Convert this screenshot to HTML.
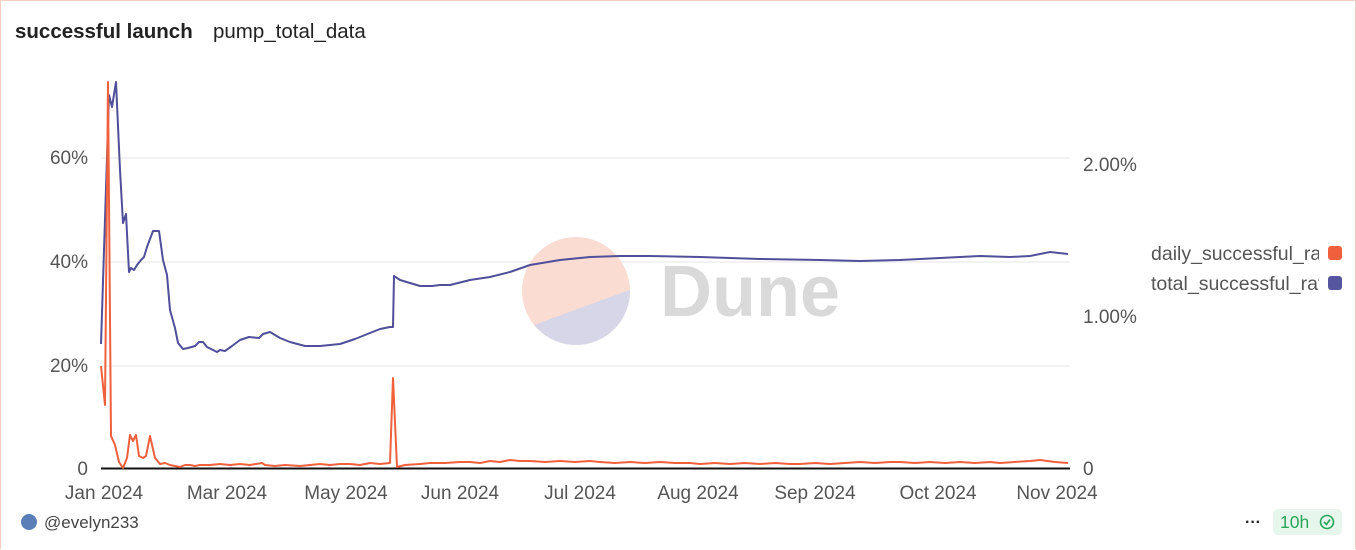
<!DOCTYPE html>
<html><head><meta charset="utf-8"><style>
html,body{margin:0;padding:0;background:#fff;}
body{width:1356px;height:550px;overflow:hidden;position:relative;font-family:"Liberation Sans",sans-serif;}
.frame{position:absolute;left:0;top:0;width:1354px;height:548px;border:1px solid #f3cfc2;border-bottom:none;}
</style></head><body>
<div class="frame"></div>
<svg width="1356" height="550" style="position:absolute;left:0;top:0" font-family="Liberation Sans, sans-serif">
<text x="15" y="38" font-size="20.5" font-weight="bold" fill="#222">successful launch</text>
<text x="213" y="38" font-size="20.5" fill="#222">pump_total_data</text>
<g stroke="#e6e6e6" stroke-width="1">
<line x1="101" x2="1070" y1="158" y2="158"/>
<line x1="101" x2="1070" y1="262" y2="262"/>
<line x1="101" x2="1070" y1="366" y2="366"/>
</g>
<line x1="101" x2="1070" y1="468.5" y2="468.5" stroke="#111" stroke-width="2"/>
<g font-size="19" fill="#555">
<text x="88" y="164" text-anchor="end">60%</text>
<text x="88" y="268" text-anchor="end">40%</text>
<text x="88" y="372" text-anchor="end">20%</text>
<text x="88" y="475" text-anchor="end">0</text>
<text x="1083" y="171">2.00%</text>
<text x="1083" y="323">1.00%</text>
<text x="1083" y="475">0</text>
<g text-anchor="middle">
<text x="104" y="499">Jan 2024</text>
<text x="227" y="499">Mar 2024</text>
<text x="346" y="499">May 2024</text>
<text x="460" y="499">Jun 2024</text>
<text x="580" y="499">Jul 2024</text>
<text x="698" y="499">Aug 2024</text>
<text x="815" y="499">Sep 2024</text>
<text x="938" y="499">Oct 2024</text>
<text x="1057" y="499">Nov 2024</text>
</g>
</g>
<svg x="1151" y="236" width="168" height="70">
<g font-size="19.5" fill="#555" font-family="Liberation Sans, sans-serif">
<text x="0" y="24">daily_successful_rate</text>
<text x="0" y="54">total_successful_rate</text>
</g>
</svg>
<rect x="1328" y="246" width="14" height="14" rx="3" fill="#f0603c"/>
<rect x="1328" y="276" width="14" height="14" rx="3" fill="#5555a0"/>
<defs><clipPath id="c"><circle cx="576" cy="291" r="54"/></clipPath></defs>
<g clip-path="url(#c)">
<rect x="520" y="235" width="115" height="115" fill="#fbdcd3"/>
<polygon points="520,330 635,288 635,350 520,350" fill="#d6d6e8"/>
</g>
<text x="660" y="316" font-size="72" font-weight="bold" fill="#d9d9d9">Dune</text>
<polyline fill="none" stroke="#4f4f9a" stroke-width="2" stroke-linejoin="round" points="101,344 109,95 112,107 116,82 120,170 123,223 126,214 129,272 131,268 134,270 137,265 141,260 144,257 147,247 153,231 159,231 163,260 167,275 170,310 175,328 178,343 183,349 188,348 195,346 199,342 203,342 207,347 213,350 217,352 220,350 225,351 232,346 240,340 249,337 259,338 263,334 270,332 280,338 290,342 305,346 320,346 340,344 355,339 370,333 380,329 390,327 393,327 394,276 400,280 410,283 420,286 432,286 440,285 450,285 470,280 490,277 510,272 530,265 560,260 590,257 620,256 650,256 700,257 760,259 820,260 860,261 900,260 940,258 980,256 1010,257 1030,256 1050,252 1068,254"/>
<polyline fill="none" stroke="#f0603c" stroke-width="2" stroke-linejoin="round" points="101,366 105,405 108,82 111,436 115,445 119,462 123,468 127,458 130,435 133,441 136,435 139,456 143,458 146,456 150,436 155,458 160,464 165,463 170,465 175,466 180,467 185,465 190,465 195,466 200,465 210,465 220,464 230,465 240,464 250,465 262,463 265,465 275,466 285,465 300,466 310,465 320,464 330,465 340,464 350,464 360,465 370,463 380,464 390,463 393,378 397,467 405,465 420,464 430,463 445,463 460,462 470,462 480,463 490,461 500,462 510,460 520,461 530,461 545,462 560,461 575,462 590,461 600,462 615,463 630,462 645,463 660,462 675,463 690,463 700,464 715,463 730,464 745,463 760,464 775,463 790,464 800,464 815,463 830,464 845,463 860,462 875,463 890,462 900,462 915,463 930,462 945,463 960,462 975,463 990,462 1000,463 1015,462 1030,461 1040,460 1055,462 1068,463"/>
<circle cx="29" cy="522" r="8" fill="#5a7fb8"/>
<text x="44" y="528" font-size="17" fill="#444">@evelyn233</text>
<text x="1245" y="527" font-size="16" fill="#222" font-weight="bold">···</text>
<rect x="1273" y="509" width="69" height="26" rx="5" fill="#e6f6ec"/>
<text x="1280" y="528" font-size="17.5" fill="#2aa65a">10h</text>
<circle cx="1327" cy="522" r="6.5" fill="none" stroke="#2aa65a" stroke-width="1.6"/>
<polyline points="1324,522 1326.5,524.5 1330,519.5" fill="none" stroke="#2aa65a" stroke-width="1.6"/>
</svg>
</body></html>
